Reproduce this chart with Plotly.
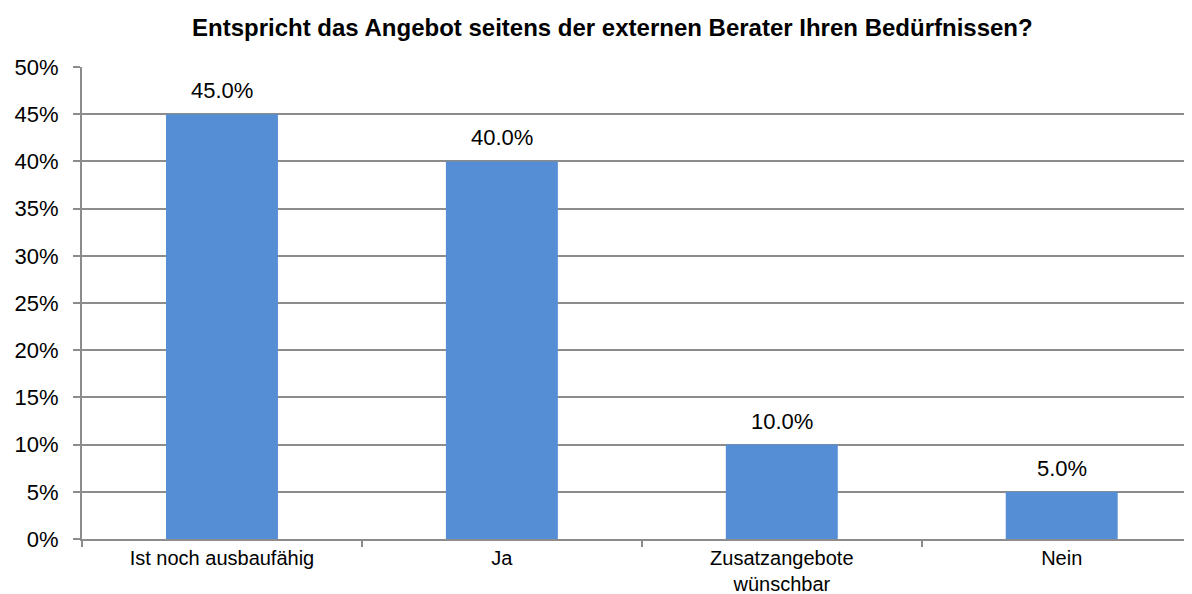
import plotly.graph_objects as go

categories = ["Ist noch ausbaufähig", "Ja", "Zusatzangebote<br>wünschbar", "Nein"]
values = [45.0, 40.0, 10.0, 5.0]
y_ticks = [0, 5, 10, 15, 20, 25, 30, 35, 40, 45, 50]
title_text = "Entspricht das Angebot seitens der externen Berater Ihren Bedürfnissen?"

FONT = "Liberation Sans, Arial, sans-serif"
GRID = "#8c8c8c"

fig = go.Figure()
fig.add_trace(go.Bar(
    x=categories, y=values, width=0.4,
    marker=dict(color="#558ED5", line=dict(width=0)),
    hoverinfo="skip",
))

for c, v in zip(categories, values):
    fig.add_annotation(x=c, y=v, text=f"{v:.1f}%", showarrow=False,
                       yanchor="bottom", yshift=9,
                       font=dict(family=FONT, size=22, color="#000"))

fig.update_layout(
    width=1192, height=594,
    margin=dict(l=74, r=0, t=59, b=63),
    paper_bgcolor="white", plot_bgcolor="white",
    showlegend=False,
    title=dict(text=f"<b>{title_text}</b>", x=0.507, xanchor="center",
               y=1 - 20 / 594, yanchor="middle",
               font=dict(family=FONT, size=24, color="#000")),
    bargap=0.6,
)
fig.update_xaxes(
    type="category", range=[-0.5, 3.494], automargin=False,
    showline=True, linecolor=GRID, linewidth=2,
    ticks="outside", tickson="boundaries", ticklen=6, tickcolor=GRID, tickwidth=2,
    showgrid=False,
    ticklabelstandoff=0,
    tickfont=dict(family=FONT, size=20, color="#000"),
)
fig.update_yaxes(
    range=[0, 50], tickvals=y_ticks, ticktext=[f"{t}%" for t in y_ticks],
    automargin=False,
    showgrid=True, gridcolor=GRID, gridwidth=2,
    showline=True, linecolor=GRID, linewidth=2,
    ticks="outside", ticklen=7, tickcolor=GRID, tickwidth=2,
    ticklabelstandoff=10,
    tickfont=dict(family=FONT, size=22, color="#000"),
    zeroline=False,
)

fig.write_html("out.html")
